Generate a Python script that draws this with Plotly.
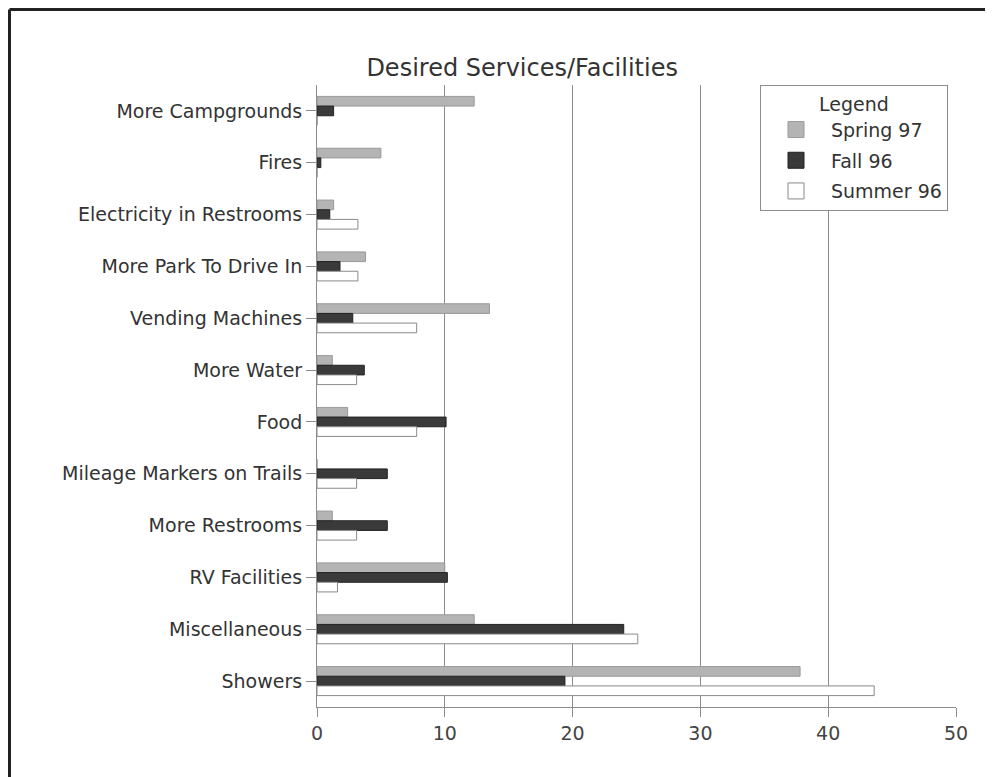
import plotly.graph_objects as go

categories = [
    "More Campgrounds",
    "Fires",
    "Electricity in Restrooms",
    "More Park To Drive In",
    "Vending Machines",
    "More Water",
    "Food",
    "Mileage Markers on Trails",
    "More Restrooms",
    "RV Facilities",
    "Miscellaneous",
    "Showers",
]
spring_97 = [12.3, 5.0, 1.3, 3.8, 13.5, 1.2, 2.4, 0, 1.2, 10.0, 12.3, 37.8]
fall_96 = [1.3, 0.3, 1.0, 1.8, 2.8, 3.7, 10.1, 5.5, 5.5, 10.2, 24.0, 19.4]
summer_96 = [0, 0, 3.2, 3.2, 7.8, 3.1, 7.8, 3.1, 3.1, 1.6, 25.1, 43.6]
x_ticks = [0, 10, 20, 30, 40, 50]

series = [
    ("Spring 97", spring_97, "#b4b4b4", "#9a9a9a"),
    ("Fall 96", fall_96, "#3a3a3a", "#222222"),
    ("Summer 96", summer_96, "#ffffff", "#8a8a8a"),
]

fig = go.Figure()

for name, vals, fill, edge in series:
    fig.add_trace(
        go.Bar(
            x=vals,
            y=categories,
            orientation="h",
            name=name,
            marker=dict(color=fill, line=dict(color=edge, width=1)),
            showlegend=False,
        )
    )
    # legend-only marker so the swatch is a bigger square
    fig.add_trace(
        go.Scatter(
            x=[None],
            y=[None],
            mode="markers",
            name=name,
            legendgroup=name,
            marker=dict(symbol="square", size=16, color=fill, line=dict(color=edge, width=1)),
        )
    )

font = "DejaVu Sans, Verdana, sans-serif"

# page body adds 8px, so the figure is 8px smaller than the window
W, H = 985, 769
ml, mt, pw, ph = 309, 77, 639, 622

fig.update_layout(
    width=W,
    height=H,
    barmode="group",
    bargap=0.44,
    bargroupgap=0,
    plot_bgcolor="white",
    paper_bgcolor="white",
    margin=dict(l=ml, r=W - ml - pw, t=mt, b=H - mt - ph),
    font=dict(family=font, size=19, color="#333333"),
    title=dict(
        text="Desired Services/Facilities",
        x=0.522,
        xanchor="center",
        y=0.923,
        yanchor="middle",
        font=dict(size=24, color="#333333"),
    ),
    xaxis=dict(
        range=[0, 50],
        tickvals=x_ticks,
        showgrid=True,
        gridcolor="#8c8c8c",
        gridwidth=1,
        showline=True,
        linecolor="#8c8c8c",
        ticks="outside",
        ticklen=9,
        tickcolor="#8c8c8c",
        zeroline=False,
        tickfont=dict(size=19, color="#444444"),
    ),
    yaxis=dict(
        autorange="reversed",
        showline=True,
        linecolor="#8c8c8c",
        ticks="outside",
        ticklen=10,
        tickcolor="#8c8c8c",
        showgrid=False,
        tickfont=dict(size=19, color="#333333"),
    ),
    legend=dict(
        x=(760 - 8 - ml) / pw,
        y=1.0,
        xanchor="left",
        yanchor="top",
        bgcolor="white",
        bordercolor="#8c8c8c",
        borderwidth=1,
        traceorder="grouped",
        title=dict(text="Legend", side="top center", font=dict(size=19)),
        font=dict(size=19, color="#333333"),
        itemsizing="trace",
        itemwidth=60,
        tracegroupgap=3,
    ),
    shapes=[
        dict(type="line", xref="paper", yref="paper",
             x0=(1.5 - ml) / pw, x1=1.2, y0=(mt + ph - 1.5) / ph, y1=(mt + ph - 1.5) / ph,
             line=dict(color="#222222", width=3)),
        dict(type="line", xref="paper", yref="paper",
             x0=(1.5 - ml) / pw, x1=(1.5 - ml) / pw, y0=(mt + ph - 1.5) / ph, y1=-0.2,
             line=dict(color="#222222", width=3)),
    ],
)

fig.write_html("out.html")
